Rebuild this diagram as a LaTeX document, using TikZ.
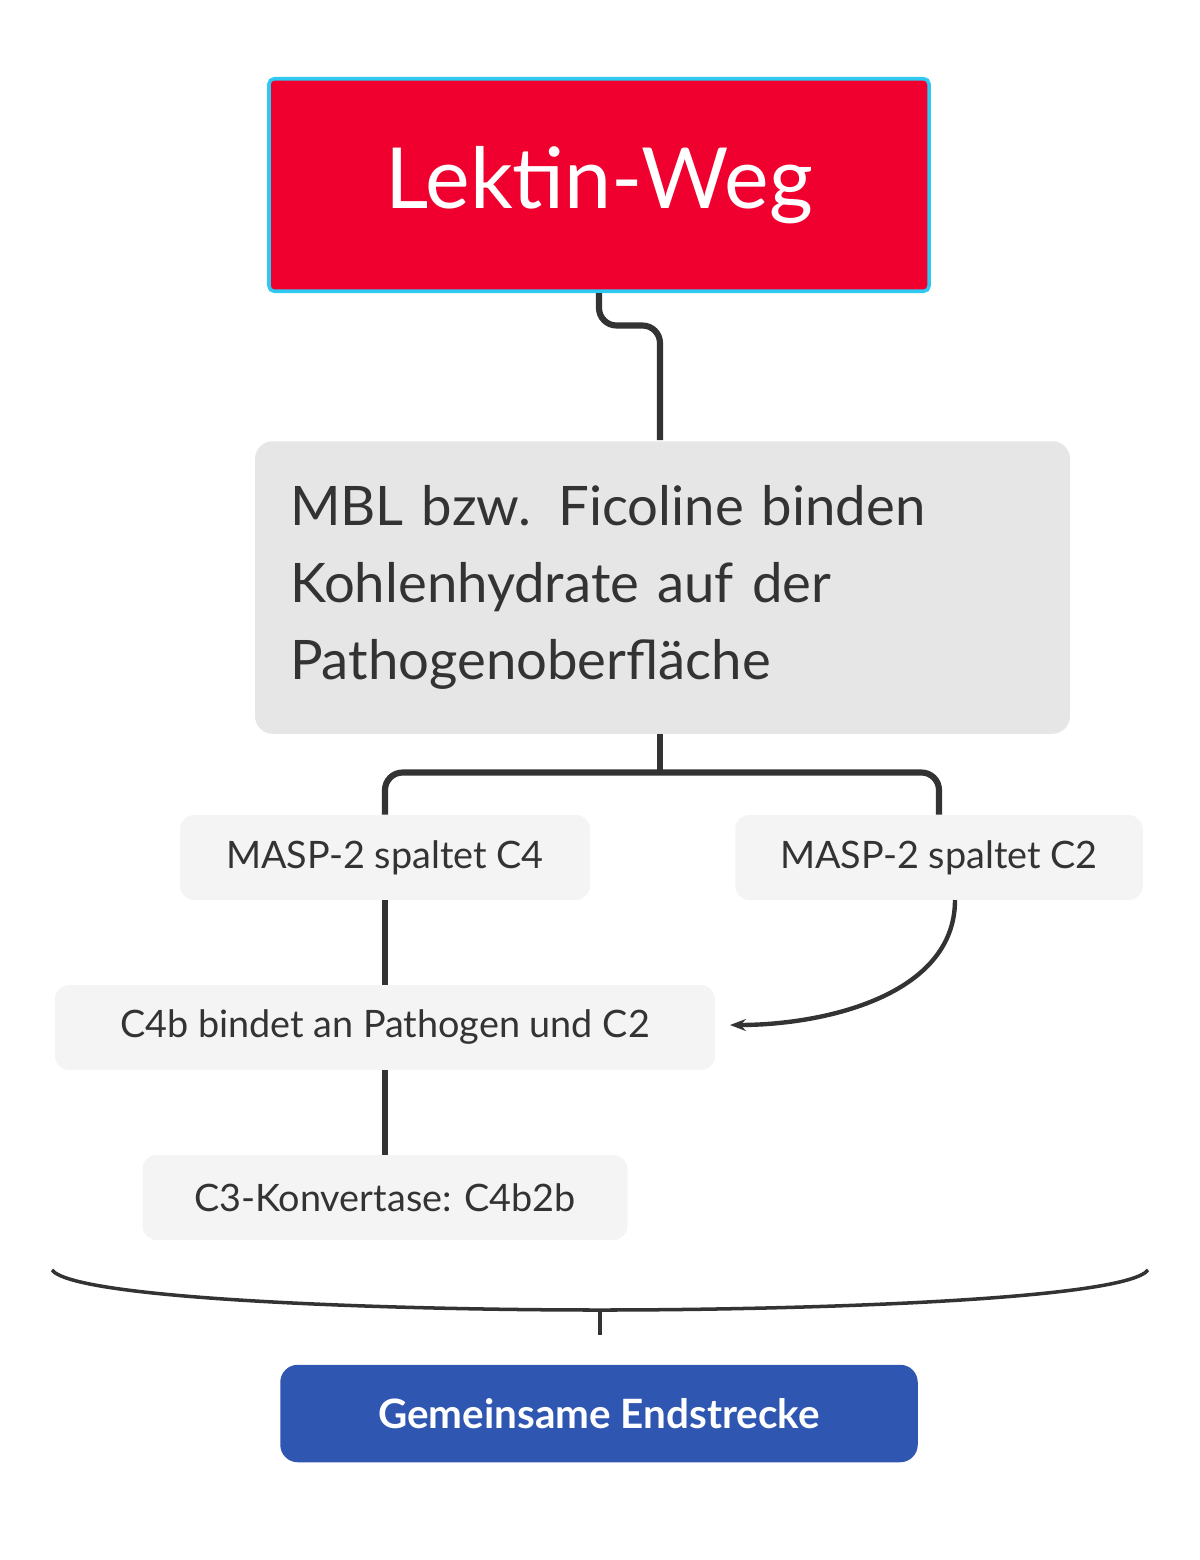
\documentclass[tikz,border=0pt]{standalone}
\usepackage{fontspec}
\setmainfont{Lato}
\usetikzlibrary{arrows.meta}
\definecolor{titlered}{HTML}{F0002E}
\definecolor{titleedge}{HTML}{2EC8F0}
\definecolor{maingray}{HTML}{E6E6E6}
\definecolor{stepgray}{HTML}{F4F4F4}
\definecolor{endblue}{HTML}{2F56B0}
\definecolor{linegray}{HTML}{333333}

\begin{document}
\begin{tikzpicture}
    \useasboundingbox (0,0) rectangle (24,-31.2);
    \tikzset{titlebox/.style={font = \fontsize{48}{56}\selectfont,
                text = white, fill = titlered, draw = titleedge,
                line width = 2pt, rounded corners = 3pt,
                minimum width = 13.2cm, minimum height = 4.25cm},
             mainbox/.style={font = \fontsize{31}{44}\selectfont,
                text = linegray, fill = maingray, rounded corners = 10pt,
                minimum width = 16.3cm, minimum height = 5.85cm,
                align = left, text width = 14.9cm},
             stepbox/.style={font = \fontsize{21.5}{26}\selectfont,
                text = linegray, fill = stepgray, rounded corners = 8pt,
                minimum height = 1.7cm, inner xsep = 12pt},
             endbox/.style={font = \bfseries\fontsize{23}{28}\selectfont,
                text = white, fill = endblue, rounded corners = 10pt,
                minimum width = 12.75cm, minimum height = 1.95cm},
             link/.style={draw = linegray, line width = 3.5pt,
                rounded corners = 10pt}}
    \node[titlebox] (T) at (11.98,-3.7) {Lektin-Weg};
    \node[mainbox] (M) at (13.25,-11.75) {MBL bzw. Ficoline binden\\Kohlenhydrate auf der\\Pathogenoberfläche};
    \node[stepbox, minimum width = 8.2cm] (C4) at (7.7,-17.15) {MASP-2 spaltet C4};
    \node[stepbox, minimum width = 8.15cm] (C2) at (18.78,-17.15) {MASP-2 spaltet C2};
    \node[stepbox, minimum width = 13.2cm] (B) at (7.7,-20.55) {C4b bindet an Pathogen und C2};
    \node[stepbox, minimum width = 9.7cm] (K) at (7.7,-23.95) {C3-Konvertase: C4b2b};
    \node[endbox] (E) at (11.98,-28.27) {Gemeinsame Endstrecke};
    \coordinate (J) at (13.2,-15.45);
    \coordinate (Bl) at (1.04,-25.4);
    \coordinate (Br) at (22.96,-25.4);
    \coordinate (Bm) at (12,-26.2);
    % connectors
    \draw[link] (T.south) -- ++(0,-0.65) -| (13.2,-8.8);
    \draw[link] (M.south -| J) -- (J);
    \draw[link] (C4.north) |- (J) -| (C2.north);
    \draw[link] (C4.south) -- (B.north);
    \draw[link] (B.south) -- (K.north);
    \draw[draw = linegray, line width = 2.5pt, -{Stealth[length=9pt]}]
        (19.1,-18.0) .. controls (19.1,-19.9) and (16.5,-20.5) .. (14.6,-20.5);
    % brace
    \draw[draw = linegray, line width = 2pt] (Bl) .. controls (1.5,-26.0) and (8,-26.2) .. (Bm)
        .. controls (16,-26.2) and (22.5,-26.0) .. (Br);
    \draw[draw = linegray, line width = 2pt] (Bm) -- (12,-26.7);
\end{tikzpicture}
\end{document}
